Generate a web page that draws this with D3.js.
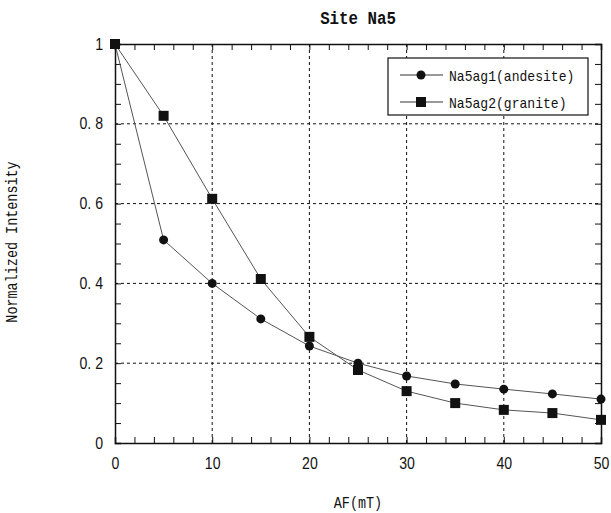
<!DOCTYPE html>
<html>
<head>
<meta charset="utf-8">
<script src="https://cdn.jsdelivr.net/npm/d3@7"></script>
<style>
  body { margin: 0; background: #fff; }
  text { fill: #111; }
</style>
</head>
<body>
<svg id="drawing_region"></svg>
<script>
// AF steps (mT)
const af = [0, 5, 10, 15, 20, 25, 30, 35, 40, 45, 50];
const andesite = [1, 0.509, 0.40, 0.311, 0.243, 0.20, 0.168, 0.148, 0.135, 0.123, 0.11];
const granite = [1, 0.82, 0.612, 0.411, 0.266, 0.183, 0.13, 0.10, 0.083, 0.075, 0.058];
const seriesNames = ['Na5ag1(andesite)', 'Na5ag2(granite)'];
const xTicks = [0, 10, 20, 30, 40, 50];
const yTicks = [0, 0.2, 0.4, 0.6, 0.8, 1];

const MONO = '"Liberation Mono", "DejaVu Sans Mono", monospace';
const SANS = '"Liberation Sans", Arial, sans-serif';

const config = {
    width: 611,
    height: 513,
    margin: {top: 44, right: 10, bottom: 70, left: 115}
};

const svg = d3.select('#drawing_region')
    .attr('width', config.width)
    .attr('height', config.height);

const inner_width = config.width - config.margin.left - config.margin.right;
const inner_height = config.height - config.margin.top - config.margin.bottom;

const chart = svg.append('g')
    .attr('transform', `translate(${config.margin.left}, ${config.margin.top})`);

const xscale = d3.scaleLinear().domain([0, 50]).range([0, inner_width]);
const yscale = d3.scaleLinear().domain([0, 1]).range([inner_height, 0]);

// squeeze text horizontally (the original uses a narrow gothic font)
const squeeze = (sel, k) => sel.each(function() {
    const w = this.getComputedTextLength();
    d3.select(this).attr('textLength', w * k).attr('lengthAdjust', 'spacingAndGlyphs');
});

// dashed grid
chart.append('g').selectAll('line')
    .data(xTicks.slice(1, -1))
    .join('line')
    .attr('x1', d => xscale(d)).attr('x2', d => xscale(d))
    .attr('y1', 0).attr('y2', inner_height)
    .attr('stroke', '#111').attr('stroke-dasharray', '3,3').attr('stroke-width', 1);

chart.append('g').selectAll('line')
    .data(yTicks.slice(1, -1))
    .join('line')
    .attr('y1', d => yscale(d)).attr('y2', d => yscale(d))
    .attr('x1', 0).attr('x2', inner_width)
    .attr('stroke', '#111').attr('stroke-dasharray', '3,3').attr('stroke-width', 1);

// minor ticks, pointing inward on all four sides
const xMinor = d3.range(0, 50.01, 2);
const yMinor = d3.range(0, 1.001, 0.05);

const tickAxis = (axis, ticks) => axis.tickValues(ticks).tickSize(-6).tickFormat('');

chart.append('g').attr('transform', `translate(0, ${inner_height})`)
    .call(tickAxis(d3.axisBottom(xscale), xMinor));
chart.append('g')
    .call(tickAxis(d3.axisTop(xscale), xMinor));
chart.append('g')
    .call(tickAxis(d3.axisLeft(yscale), yMinor));
chart.append('g').attr('transform', `translate(${inner_width}, 0)`)
    .call(tickAxis(d3.axisRight(yscale), yMinor));

chart.selectAll('.domain').attr('stroke', '#111').attr('stroke-width', 1.5);
chart.selectAll('.tick line').attr('stroke', '#111');

// tick labels
const xlab = chart.append('g').attr('transform', `translate(0, ${inner_height})`)
    .call(d3.axisBottom(xscale).tickValues(xTicks).tickSize(0).tickPadding(15).tickFormat(d3.format('d')));
const ylab = chart.append('g')
    .call(d3.axisLeft(yscale).tickValues(yTicks).tickSize(0).tickPadding(12)
        .tickFormat(d => d === 0 || d === 1 ? d : d3.format('.1f')(d).replace('.', '. ')));
[xlab, ylab].forEach(g => {
    g.select('.domain').remove();
    g.attr('font-family', null).attr('font-size', null);
    g.selectAll('text')
        .style('font-family', SANS)
        .style('font-size', '16px')
        .attr('fill', '#111')
        .call(squeeze, 0.88);
});

// lines and markers
const series = [
    {name: seriesNames[0], values: andesite, symbol: 'circle'},
    {name: seriesNames[1], values: granite, symbol: 'square'}
];

const line = d3.line()
    .x((d, i) => xscale(af[i]))
    .y(d => yscale(d));

const drawMarker = (g, symbol, x, y) => {
    if (symbol === 'circle') {
        g.append('circle').attr('cx', x).attr('cy', y).attr('r', 4.5).attr('fill', '#111');
    } else {
        g.append('rect').attr('x', x - 5).attr('y', y - 5).attr('width', 10).attr('height', 10).attr('fill', '#111');
    }
};

series.forEach(s => {
    chart.append('path')
        .datum(s.values)
        .attr('d', line)
        .attr('fill', 'none')
        .attr('stroke', '#555')
        .attr('stroke-width', 1);
});
series.forEach(s => {
    const g = chart.append('g');
    s.values.forEach((v, i) => drawMarker(g, s.symbol, xscale(af[i]), yscale(v)));
});

// legend
const legend = svg.append('g').attr('transform', 'translate(388, 58)');
legend.append('rect')
    .attr('width', 200).attr('height', 57)
    .attr('fill', '#fff').attr('stroke', '#111').attr('stroke-width', 1.2);
series.forEach((s, i) => {
    const y = 17 + i * 27;
    legend.append('line').attr('x1', 12).attr('x2', 55).attr('y1', y).attr('y2', y)
        .attr('stroke', '#333').attr('stroke-width', 1);
    drawMarker(legend, s.symbol, 33, y);
    legend.append('text').attr('x', 61).attr('y', y + 6)
        .style('font-family', MONO).style('font-size', '15px')
        .text(s.name)
        .call(squeeze, 0.87);
});

// title and axis labels
svg.append('text')
    .attr('x', config.margin.left + inner_width / 2).attr('y', 24)
    .attr('text-anchor', 'middle')
    .style('font-family', MONO).style('font-size', '19px').style('font-weight', 'bold')
    .text('Site Na5')
    .call(squeeze, 0.83);

svg.append('text')
    .attr('x', config.margin.left + inner_width / 2).attr('y', 508)
    .attr('text-anchor', 'middle')
    .style('font-family', MONO).style('font-size', '16px')
    .text('AF(mT)')
    .call(squeeze, 0.84);

svg.append('text')
    .attr('transform', 'translate(17, 242) rotate(-90)')
    .attr('text-anchor', 'middle')
    .style('font-family', MONO).style('font-size', '16px')
    .text('Normalized Intensity')
    .call(squeeze, 0.84);
</script>
</body>
</html>
